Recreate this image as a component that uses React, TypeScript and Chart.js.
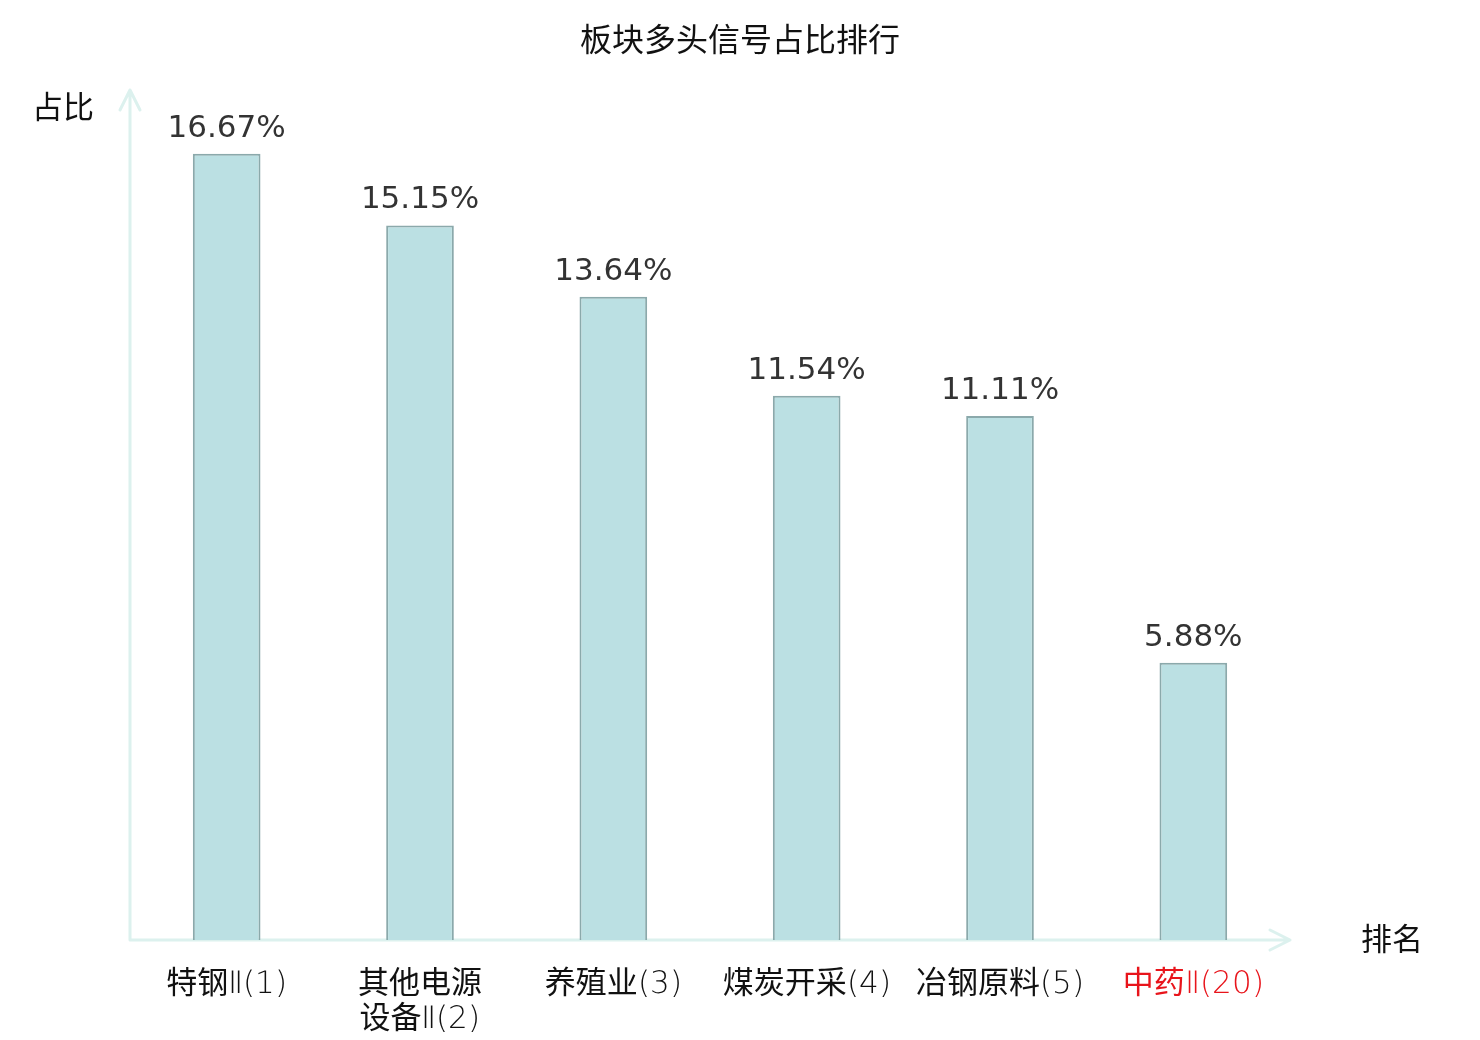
import { useEffect, useRef } from 'react'
import { Chart, registerables, ChartConfiguration, Plugin } from 'chart.js'

Chart.register(...registerables);

const chartTitle = '板块多头信号占比排行';
const yAxisName = '占比';
const xAxisName = '排名';
const categories = ['特钢Ⅱ(1)', '其他电源设备Ⅱ(2)', '养殖业(3)', '煤炭开采(4)', '冶钢原料(5)', '中药Ⅱ(20)'];
const tickLines = [['特钢Ⅱ(1)'], ['其他电源', '设备Ⅱ(2)'], ['养殖业(3)'], ['煤炭开采(4)'], ['冶钢原料(5)'], ['中药Ⅱ(20)']];
const shares = [16.67, 15.15, 13.64, 11.54, 11.11, 5.88];
const tickColors = ['#111111', '#111111', '#111111', '#111111', '#111111', '#e8141b'];

const FONT = "'DejaVu Sans', 'Noto Sans CJK SC', sans-serif";
// thin latin glyphs, regular CJK glyphs
const TICK_FONT = "'TickLatin', 'Noto Sans CJK SC', 'DejaVu Sans', sans-serif";
const AXIS_COLOR = '#dcf1ee';

const fontCss = `
@font-face {
	font-family: 'TickLatin';
	src: local('DejaVu Sans ExtraLight'), local('DejaVuSans-ExtraLight');
	unicode-range: U+0000-00FF, U+2160-2188;
}
`;

// title, axis arrows, axis names and the value over each bar
const decorations: Plugin = {
	id: 'decorations',
	beforeDatasetsDraw(chart) {
		const { ctx, chartArea } = chart;
		const { left, right, bottom } = chartArea;
		ctx.save();
		ctx.strokeStyle = AXIS_COLOR;
		ctx.lineWidth = 3;
		ctx.lineCap = 'round';
		ctx.lineJoin = 'round';
		ctx.beginPath();
		ctx.moveTo(left, bottom);
		ctx.lineTo(left, 90);
		ctx.moveTo(left - 10, 110);
		ctx.lineTo(left, 90);
		ctx.lineTo(left + 10, 110);
		ctx.moveTo(left, bottom);
		ctx.lineTo(right, bottom);
		ctx.moveTo(right - 20, bottom - 10);
		ctx.lineTo(right, bottom);
		ctx.lineTo(right - 20, bottom + 10);
		ctx.stroke();
		ctx.restore();
	},
	afterDatasetsDraw(chart) {
		const { ctx, chartArea } = chart;
		ctx.save();
		ctx.fillStyle = '#111111';
		ctx.textAlign = 'center';
		ctx.textBaseline = 'middle';
		ctx.font = `32px ${FONT}`;
		ctx.fillText(chartTitle, chart.width / 2, 43);
		ctx.font = `31px ${FONT}`;
		ctx.fillText(yAxisName, 63, 110);
		ctx.fillText(xAxisName, 1392, chartArea.bottom + 2);

		ctx.fillStyle = '#333333';
		ctx.textBaseline = 'alphabetic';
		const meta = chart.getDatasetMeta(0);
		meta.data.forEach((bar, i) => {
			ctx.fillText(shares[i].toFixed(2) + '%', bar.x, bar.y - 17);
		});
		ctx.restore();
	}
};

const ShareChart = () => {
	const canvasRef = useRef<HTMLCanvasElement | null>(null);

	useEffect(() => {
		let chart: Chart | null = null;
		let cancelled = false;

		const build = () => {
			if (cancelled || !canvasRef.current) return;
			const config: ChartConfiguration = {
				type: 'bar',
				data: {
					labels: categories,
					datasets: [{
						data: shares,
						backgroundColor: '#bbe0e3',
						borderColor: '#8ba9ab',
						borderWidth: 2,
						barPercentage: 0.35,
						categoryPercentage: 1
					}]
				},
				options: {
					responsive: true,
					maintainAspectRatio: false,
					animation: false,
					layout: { padding: { left: 130, right: 190, top: 91, bottom: 0 } },
					plugins: {
						legend: { display: false },
						tooltip: { enabled: false }
					},
					scales: {
						x: {
							grid: { display: false, drawTicks: false },
							border: { display: false },
							ticks: {
								padding: 27,
								color: tickColors,
								font: { family: TICK_FONT, size: 31, lineHeight: 1.13 },
								maxRotation: 0,
								autoSkip: false,
								callback: (_v, i) => tickLines[i]
							},
							afterFit: (scale) => { scale.height = 100; }
						},
						y: {
							display: false,
							min: 0,
							max: 18
						}
					}
				},
				plugins: [decorations]
			};
			chart = new Chart(canvasRef.current, config);
		};

		document.fonts.load("31px 'TickLatin'", '(1)Ⅱ').then(build, build);

		return () => {
			cancelled = true;
			if (chart) {
				chart.destroy();
			}
		};
	}, []);

	return (
		<div style={{ position: 'absolute', left: 0, top: 0, width: 1480, height: 1040, background: '#ffffff' }}>
			<style>{fontCss}</style>
			<canvas ref={canvasRef} />
		</div>
	);
}

export default function App() {
	return <ShareChart />;
}
